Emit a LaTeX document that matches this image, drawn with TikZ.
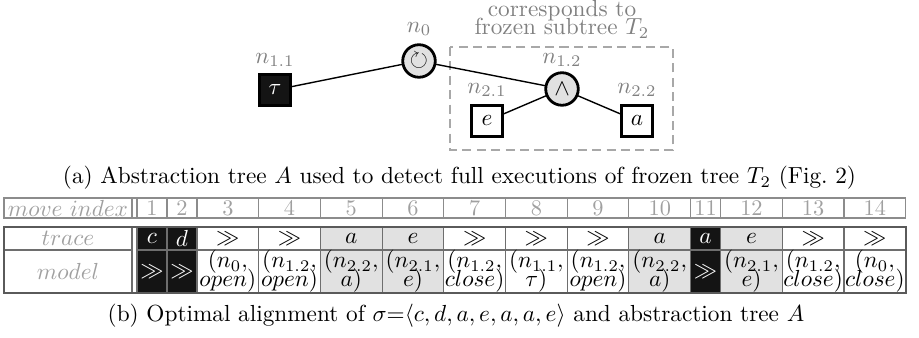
\documentclass[tikz,border=0pt]{standalone}
\usepackage{amssymb}
\definecolor{lgray}{HTML}{E1E1E1}
\definecolor{nblack}{HTML}{141414}
\definecolor{tgray}{HTML}{808080}
\definecolor{hgray}{HTML}{A0A0A0}
\definecolor{hline}{HTML}{8C8C8C}
\definecolor{cline}{HTML}{6E6E6E}
\definecolor{oline}{HTML}{5A5A5A}
\definecolor{dgray}{HTML}{A8A8A8}
\begin{document}
\begin{tikzpicture}[x=0.43pt,y=-0.43pt,
  every node/.style={inner sep=0pt, outer sep=0pt},
  opnode/.style={circle, draw=black, line width=1.2pt, fill=lgray, minimum size=14pt},
  leaf/.style={rectangle, draw=black, line width=1.2pt, fill=white, minimum size=13.6pt},
  silent/.style={leaf, fill=nblack, text=white},
  nlabel/.style={text=tgray},
  treeedge/.style={line width=0.6pt},
  hcell/.style={rectangle, draw=hline, line width=0.45pt, minimum height=20*0.43pt, text=hgray, font=\fontsize{9.6}{11.5}\selectfont},
  cell/.style={rectangle, draw=cline, line width=0.45pt, align=center, font=\fontsize{9.6}{11.5}\selectfont},
  blk/.style={fill=nblack, text=white},
  gry/.style={fill=lgray},
  wht/.style={fill=white},
]
\useasboundingbox (0,0) rectangle (919,338);

% ---------------- tree ----------------
\draw[dgray, line width=0.55pt, dash pattern=on 3.9pt off 2.3pt] (450,47) rectangle (673,150);
\node[text=tgray, align=center] (note) at (562,19) {corresponds to\\[-4pt]frozen subtree $T_2$};

\node[silent] (tau) at (275,90) {$\tau$};
\node[opnode] (n0) at (419,61) {$\circlearrowright$};
\node[opnode] (n12) at (562,89) {$\wedge$};
\node[leaf] (e) at (487,121) {$e$};
\node[leaf] (a) at (637,121) {$a$};

\draw[treeedge] (tau) -- (n0);
\draw[treeedge] (n0) -- (n12);
\draw[treeedge] (n12) -- (e);
\draw[treeedge] (n12) -- (a);

\node[nlabel] (l11) at (275,60) {$n_{1.1}$};
\node[nlabel] (l0) at (419,29) {$n_{0}$};
\node[nlabel] (l12) at (562,60) {$n_{1.2}$};
\node[nlabel] (l21) at (487,90) {$n_{2.1}$};
\node[nlabel] (l22) at (637,90) {$n_{2.2}$};

\node (capA) at (459.5,178) {(a) Abstraction tree $A$ used to detect full executions of frozen tree $T_2$ (Fig.~2)};

% ---------------- table ----------------
\node[hcell, minimum width=128*0.43pt] (hl) at (68,208) {$move\ index$};
\node[cell, minimum width=128*0.43pt, minimum height=23*0.43pt, text=hgray] (tl) at (68,238.5) {$trace$};
\node[cell, minimum width=128*0.43pt, minimum height=43*0.43pt, text=hgray] (ml) at (68,271.5) {$model$};

\foreach \i/\cx/\w/\tr/\md/\sty in {
  1/152/30/{$c$}/{$\gg$}/blk,
  2/182/30/{$d$}/{$\gg$}/blk,
  3/227.85/61.7/{$\gg$}/{$(n_0,$\\[-3.2pt]$open)$}/wht,
  4/289.55/61.7/{$\gg$}/{$(n_{1.2},$\\[-3.2pt]$open)$}/wht,
  5/351.25/61.7/{$a$}/{$(n_{2.2},$\\[-3.2pt]$a)$}/gry,
  6/412.95/61.7/{$e$}/{$(n_{2.1},$\\[-3.2pt]$e)$}/gry,
  7/474.65/61.7/{$\gg$}/{$(n_{1.2},$\\[-3.2pt]$close)$}/wht,
  8/536.35/61.7/{$\gg$}/{$(n_{1.1},$\\[-3.2pt]$\tau)$}/wht,
  9/598.05/61.7/{$\gg$}/{$(n_{1.2},$\\[-3.2pt]$open)$}/wht,
  10/659.75/61.7/{$a$}/{$(n_{2.2},$\\[-3.2pt]$a)$}/gry,
  11/705.6/30/{$a$}/{$\gg$}/blk,
  12/751.45/61.7/{$e$}/{$(n_{2.1},$\\[-3.2pt]$e)$}/gry,
  13/813.15/61.7/{$\gg$}/{$(n_{1.2},$\\[-3.2pt]$close)$}/wht,
  14/874.85/61.7/{$\gg$}/{$(n_0,$\\[-3.2pt]$close)$}/wht}{
  \node[hcell, minimum width=\w*0.43pt] (h\i) at (\cx,208) {\i};
  \node[cell, \sty, minimum width=\w*0.43pt, minimum height=23*0.43pt] (t\i) at (\cx,238.5) {\tr};
  \node[cell, \sty, minimum width=\w*0.43pt, minimum height=43*0.43pt] (m\i) at (\cx,271.5) {\md};
}
\draw[hline, line width=0.45pt] (4,198) rectangle (905.7,218);
\draw[oline, line width=0.8pt] (4,227) rectangle (905.7,293);

\node (capB) at (456,316) {(b) Optimal alignment of $\sigma{=}\langle c,d,a,e,a,a,e\rangle$ and abstraction tree $A$};
\end{tikzpicture}
\end{document}
